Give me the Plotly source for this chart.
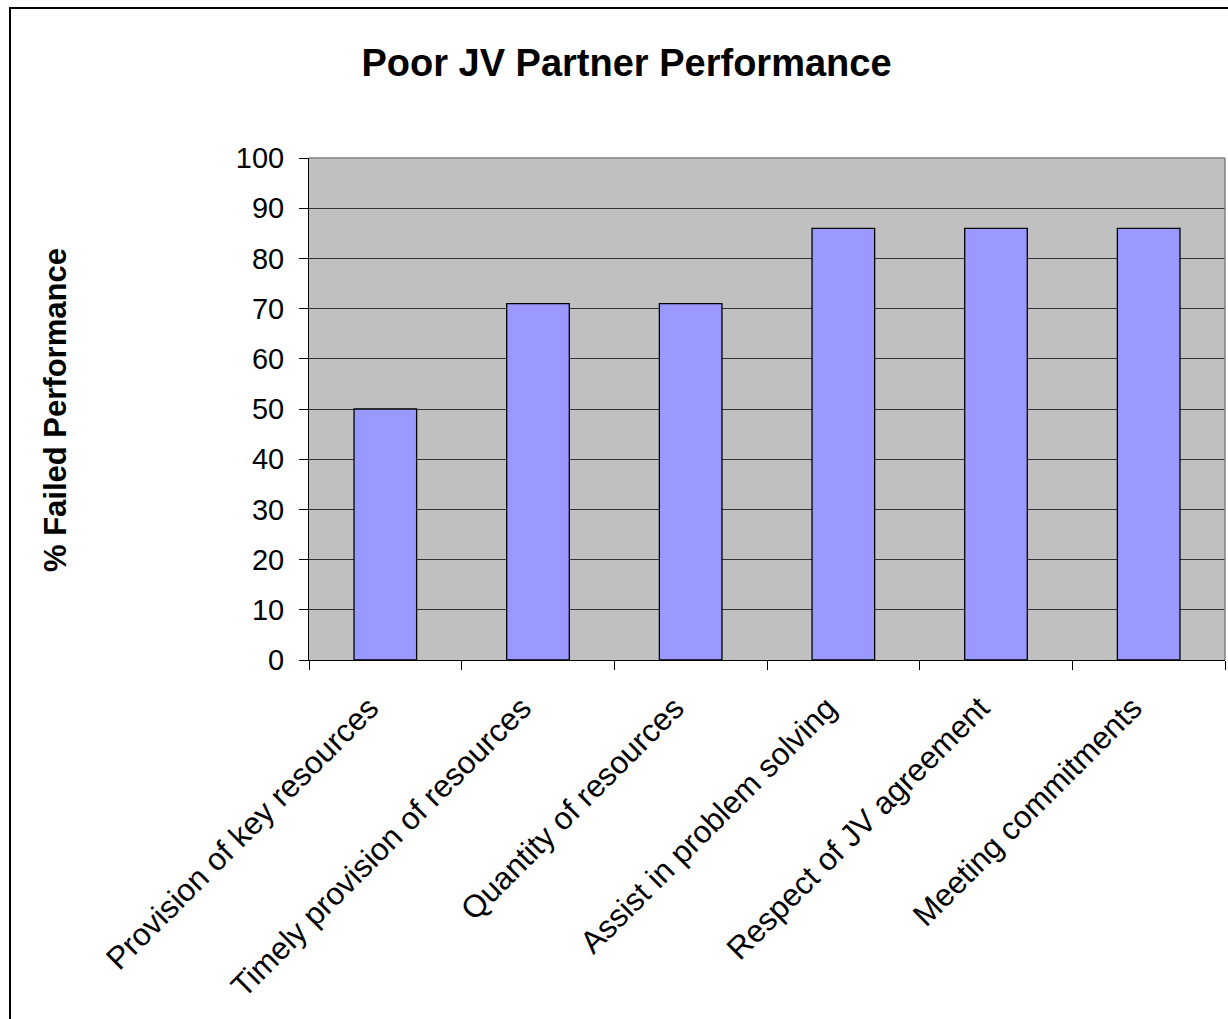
import plotly.graph_objects as go

categories = [
    "Provision of key resources",
    "Timely provision of resources",
    "Quantity of resources",
    "Assist in problem solving",
    "Respect of JV agreement",
    "Meeting commitments",
]
values = [50, 71, 71, 86, 86, 86]
y_ticks = list(range(0, 101, 10))

W, H = 1228, 1019
L, R, T, B = 309, 1225, 158, 660
FONT = "Arial, Liberation Sans, sans-serif"


def px_x(px):
    return (px - L) / (R - L)


def px_y(py):
    return (B - py) / (B - T)


fig = go.Figure(
    go.Bar(
        x=categories,
        y=values,
        marker=dict(color="#9999FF", line=dict(color="#000000", width=1.3)),
        width=0.41,
    )
)

fig.update_layout(
    width=W,
    height=H,
    margin=dict(l=L, r=W - R, t=T, b=H - B, pad=0),
    paper_bgcolor="white",
    plot_bgcolor="#C0C0C0",
    showlegend=False,
    font=dict(family=FONT, color="black"),
    title=dict(
        text="<b>Poor JV Partner Performance</b>",
        font=dict(size=38, family=FONT, color="black"),
        xref="container",
        yref="container",
        x=626.5 / W,
        y=1 - 63 / H,
        xanchor="center",
        yanchor="middle",
    ),
)

fig.update_yaxes(
    range=[0, 100],
    tickvals=y_ticks,
    ticks="outside",
    ticklen=9,
    tickcolor="black",
    tickwidth=1,
    showline=True,
    linecolor="black",
    linewidth=1,
    showgrid=True,
    gridcolor="#333333",
    gridwidth=1,
    zeroline=False,
    tickfont=dict(size=29, family=FONT, color="black"),
    ticklabelstandoff=9,
)

fig.update_xaxes(
    tickson="boundaries",
    ticks="outside",
    ticklen=9,
    tickcolor="black",
    tickwidth=1,
    showline=True,
    linecolor="black",
    linewidth=1,
    showgrid=False,
    tickangle=-45,
    tickfont=dict(size=31.5, family=FONT, color="black"),
    ticklabelstandoff=16,
    ticklabelshift=-16,
)

fig.add_annotation(
    text="<b>% Failed Performance</b>",
    xref="paper",
    yref="paper",
    x=px_x(55),
    y=px_y(410),
    xanchor="center",
    yanchor="middle",
    textangle=-90,
    showarrow=False,
    font=dict(size=31, family=FONT, color="black"),
)

# plot-area border (top and right, gray)
fig.add_shape(type="line", xref="paper", yref="paper", x0=0, x1=1, y0=1, y1=1,
              line=dict(color="#808080", width=1.5))
fig.add_shape(type="line", xref="paper", yref="paper", x0=1, x1=1, y0=0, y1=1,
              line=dict(color="#808080", width=1.5))

# outer chart border
fig.add_shape(type="rect", xref="paper", yref="paper",
              x0=px_x(10), x1=px_x(1245), y0=px_y(8), y1=px_y(1040),
              line=dict(color="black", width=2), fillcolor="rgba(0,0,0,0)")

fig.write_html("out.html")
